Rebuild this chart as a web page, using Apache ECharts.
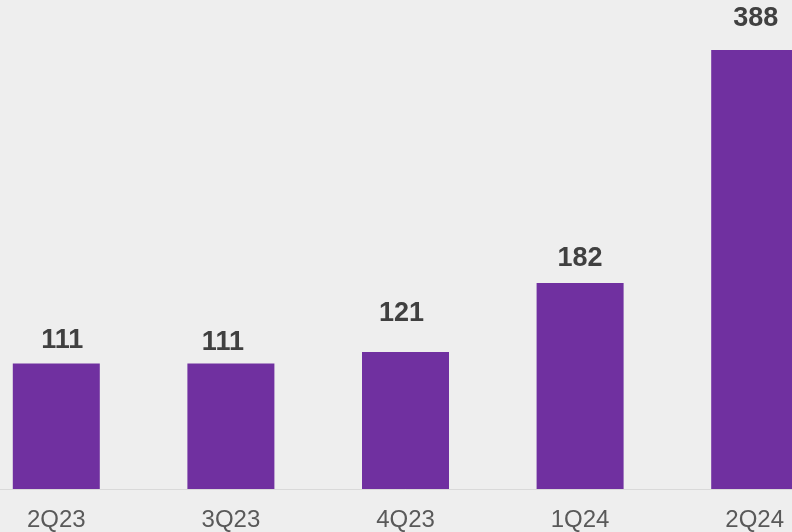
<!DOCTYPE html>
<html>
<head>
<meta charset="utf-8">
<script src="https://cdn.jsdelivr.net/npm/echarts@6/dist/echarts.min.js"></script>
<style>
  html, body { margin: 0; padding: 0; background: #eeeeee; overflow: hidden; }
  #frame { width: 792px; height: 532px; overflow: hidden; position: relative; }
  /* the plot runs slightly past both page edges */
  #chart { position: absolute; left: -31.25px; top: 0; width: 872.5px; height: 532px; }
</style>
</head>
<body>
<div id="frame"><div id="chart"></div></div>
<script>
// Quarterly values
const quarters = ['2Q23', '3Q23', '4Q23', '1Q24', '2Q24'];
const values = [111, 111, 121, 182, 388];

// Small per-bar nudges for the value labels [dx, dy]
const labelNudge = [[6, 1], [-8, 3], [-4, -15], [0, -1], [1, -8]];

const chart = echarts.init(document.getElementById('chart'), null, { renderer: 'canvas' });

chart.setOption({
  backgroundColor: '#eeeeee',
  animation: false,
  grid: { left: 0, right: 0, top: 36.4, bottom: 43, containLabel: false },
  xAxis: {
    type: 'category',
    data: quarters,
    axisLine: { show: true, lineStyle: { color: '#d9d9d9', width: 1 } },
    axisTick: { show: false },
    axisLabel: {
      color: '#595959',
      fontFamily: 'Liberation Sans, Arial, sans-serif',
      fontSize: 24,
      margin: 19
    }
  },
  yAxis: {
    type: 'value',
    min: 0,
    max: 400,
    show: false,
    splitLine: { show: false }
  },
  series: [{
    type: 'bar',
    barWidth: 87,
    itemStyle: { color: '#7030A0' },
    label: {
      show: true,
      position: 'top',
      distance: 10,
      color: '#404040',
      fontFamily: 'Liberation Sans, Arial, sans-serif',
      fontWeight: 'bold',
      fontSize: 27
    },
    data: values.map((v, i) => ({ value: v, label: { offset: labelNudge[i] } }))
  }]
});
</script>
</body>
</html>
